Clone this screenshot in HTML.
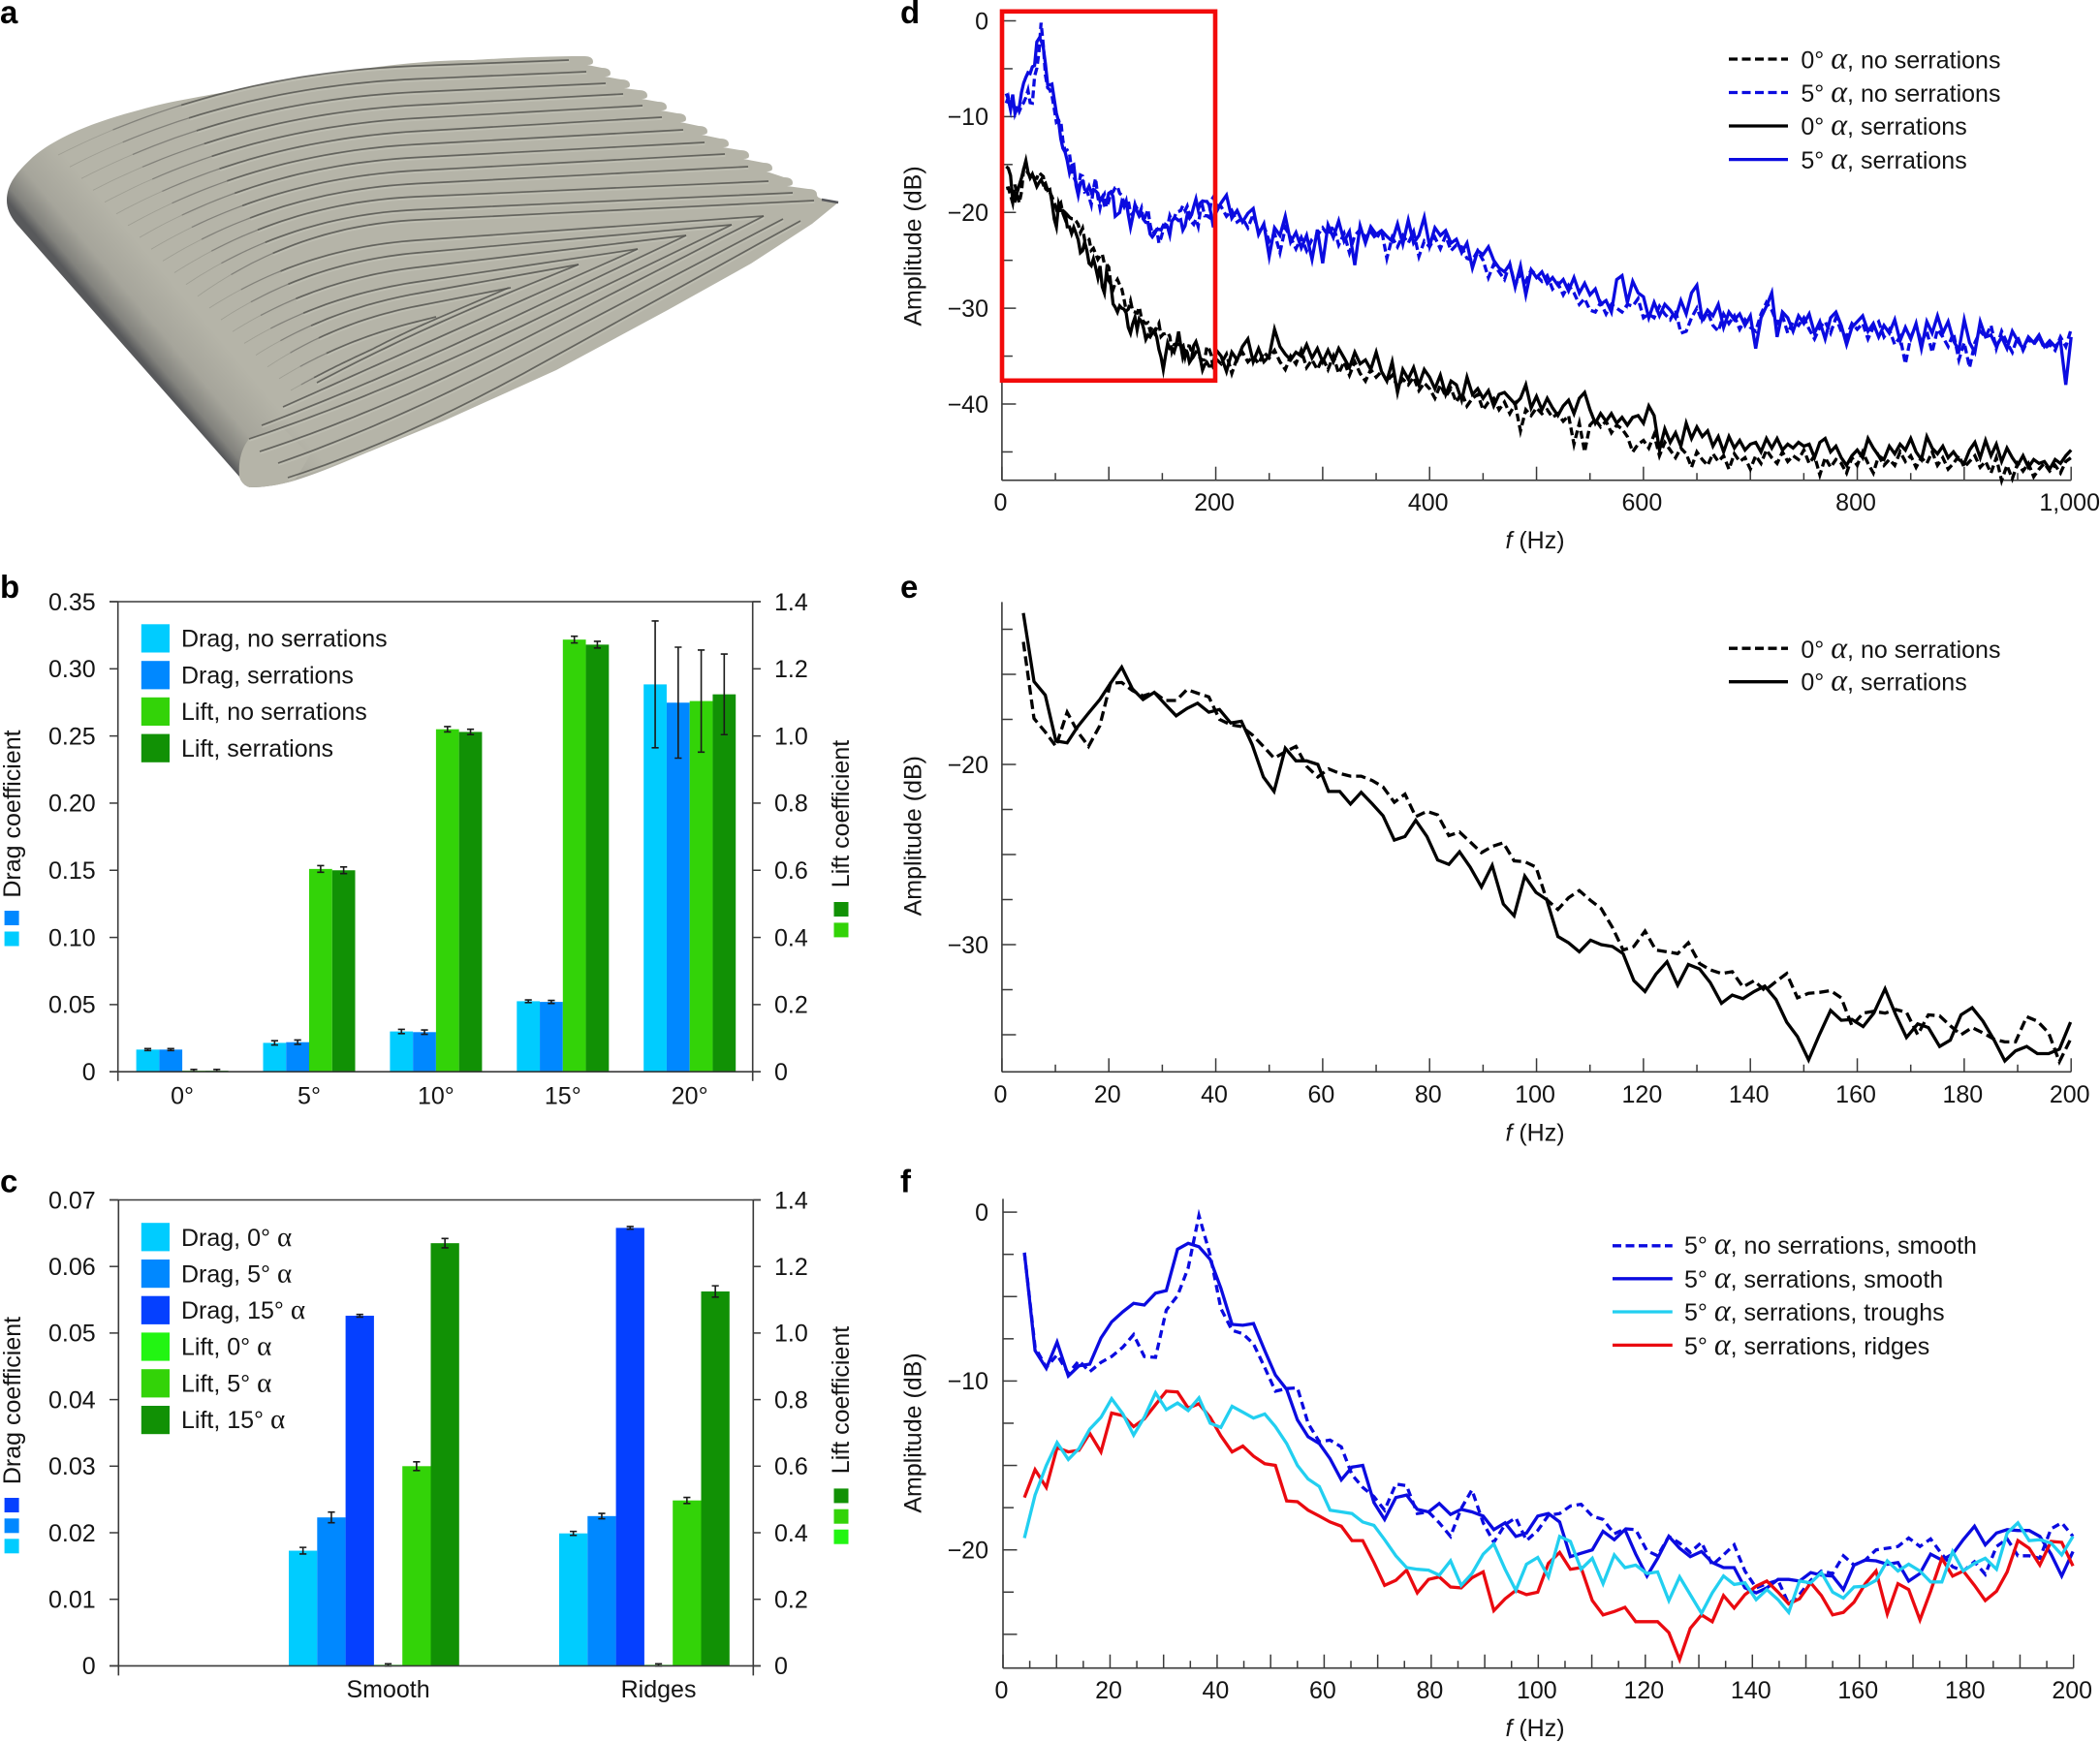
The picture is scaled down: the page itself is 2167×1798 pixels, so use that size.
<!DOCTYPE html>
<html lang="en">
<head>
<meta charset="utf-8">
<title>Airfoil serrations: wing geometry, aerodynamic coefficients and amplitude spectra</title>
<style>
html,body{margin:0;padding:0;background:#fff}
svg{display:block}
text{font-family:"Liberation Sans",sans-serif;font-size:25px;fill:#141414}
.pl{font-weight:700;font-size:33px;fill:#000}
.al{font-family:"Liberation Serif",serif;font-style:italic;font-size:32px}
.au{font-family:"Liberation Serif",serif;font-size:29px}
.it{font-style:italic}
</style>
</head>
<body>
<svg id="fig" xmlns="http://www.w3.org/2000/svg" width="2167" height="1798" viewBox="0 0 2167 1798">
<defs>
<linearGradient id="leGrad" gradientUnits="userSpaceOnUse" x1="127" y1="349" x2="185" y2="300">
<stop offset="0" stop-color="#58595b"/><stop offset="0.14" stop-color="#82827d"/><stop offset="0.45" stop-color="#a6a59b"/><stop offset="1" stop-color="#b5b4a8"/>
</linearGradient>
</defs>
<rect width="2167" height="1798" fill="#fff"/>

<g id="panelA">
<text class="pl" x="0" y="24">a</text>
<path fill="url(#leGrad)" d="M7,207 C7,190 17,178 34,162 C60,140 100,125 143.5,113.6 C180,103 210,100 241,93 C290,82 330,78 367,72 C410,66 450,62 488,62 C520,60 560,58 603,58 Q612,58 612,64 Q612,67 606,67 L621,70 Q630,70 630,76 Q630,79 624,79 L641,82 Q650,82 650,88 Q650,91 644,91 L659,93 Q668,93 668,99 Q668,102 662,102 L679,105 Q688,105 688,111 Q688,114 682,114 L699,117 Q708,117 708,123 Q708,126 702,126 L721,130 Q730,130 730,136 Q730,139 724,139 L743,143 Q752,143 752,149 Q752,152 746,152 L764,155 Q773,155 773,161 Q773,164 767,164 L788,168 Q797,168 797,174 Q797,177 791,177 L809,183 Q818,183 818,189 Q818,192 812,192 L834,195 Q843,195 843,201 Q843,204 848,205 L865,209 L838,231 L775,272 L689,320 L574,382 L459,434 L367,472 Q330,488 304,496 Q280,503 258,503 Q250,501 247,492 L17,231 Q7,219 7,207 Z"/>
<path fill="#b5b4a8" d="M257,453 Q245,468 247,492 Q250,501 258,503 Q280,503 304,496 L320,470 L290,440 Z"/>
<g id="wingRidges"></g>
<path d="M848,206 L865,209" stroke="#55565a" stroke-width="2.5" fill="none"/>
</g>

<g id="panelB">
<text class="pl" x="0" y="617">b</text>
<text transform="translate(21,840) rotate(-90)" text-anchor="middle">Drag coefficient</text>
<text transform="translate(876,840) rotate(-90)" text-anchor="middle">Lift coefficient</text>
<g>
<rect x="4.6" y="940" width="15" height="15" fill="#0088ff"/>
<rect x="4.6" y="961.5" width="15" height="15" fill="#00ccff"/>
<rect x="860.5" y="931" width="15" height="15" fill="#119105"/>
<rect x="860.5" y="952.4" width="15" height="15" fill="#33d308"/>
</g>
<g id="plotB"></g>
<g>
<rect x="145.8" y="644.3" width="29.2" height="29.2" fill="#00ccff"/>
<text x="187" y="667.5">Drag, no serrations</text>
<rect x="145.8" y="682.2" width="29.2" height="29.2" fill="#0088ff"/>
<text x="187" y="705.3">Drag, serrations</text>
<rect x="145.8" y="719.8" width="29.2" height="29.2" fill="#33d308"/>
<text x="187" y="743">Lift, no serrations</text>
<rect x="145.8" y="757.6" width="29.2" height="29.2" fill="#119105"/>
<text x="187" y="781">Lift, serrations</text>
</g>
</g>

<g id="panelC">
<text class="pl" x="0" y="1230.5">c</text>
<text transform="translate(21,1445.5) rotate(-90)" text-anchor="middle">Drag coefficient</text>
<text transform="translate(876,1445) rotate(-90)" text-anchor="middle">Lift coefficient</text>
<g>
<rect x="4.6" y="1546" width="15" height="15" fill="#0540ff"/>
<rect x="4.6" y="1567.3" width="15" height="15" fill="#0088ff"/>
<rect x="4.6" y="1588.3" width="15" height="15" fill="#00ccff"/>
<rect x="860.5" y="1536.4" width="15" height="15" fill="#119105"/>
<rect x="860.5" y="1557.7" width="15" height="15" fill="#33d308"/>
<rect x="860.5" y="1578.7" width="15" height="15" fill="#22f512"/>
</g>
<g id="plotC"></g>
<g>
<rect x="145.8" y="1262.2" width="29.2" height="29.2" fill="#00ccff"/>
<text x="187" y="1285.8">Drag, 0° <tspan class="au">α</tspan></text>
<rect x="145.8" y="1300" width="29.2" height="29.2" fill="#0088ff"/>
<text x="187" y="1323.5">Drag, 5° <tspan class="au">α</tspan></text>
<rect x="145.8" y="1337.7" width="29.2" height="29.2" fill="#0540ff"/>
<text x="187" y="1361">Drag, 15° <tspan class="au">α</tspan></text>
<rect x="145.8" y="1375.4" width="29.2" height="29.2" fill="#22f512"/>
<text x="187" y="1398.7">Lift, 0° <tspan class="au">α</tspan></text>
<rect x="145.8" y="1413.2" width="29.2" height="29.2" fill="#33d308"/>
<text x="187" y="1436.3">Lift, 5° <tspan class="au">α</tspan></text>
<rect x="145.8" y="1451" width="29.2" height="29.2" fill="#119105"/>
<text x="187" y="1474">Lift, 15° <tspan class="au">α</tspan></text>
</g>
</g>

<g id="panelD">
<text class="pl" x="929" y="24">d</text>
<text transform="translate(950.6,254) rotate(-90)" text-anchor="middle">Amplitude (dB)</text>
<text x="1584" y="566" text-anchor="middle"><tspan class="it">f</tspan> (Hz)</text>
<g id="plotD"></g>
<rect x="1034" y="11.8" width="220" height="381" fill="none" stroke="#f20b0b" stroke-width="4.6"/>
<g>
<line x1="1784" x2="1845" y1="61" y2="61" stroke="#000" stroke-width="3.3" stroke-dasharray="9 4.5"/>
<text x="1858.4" y="70.3">0° <tspan class="al">α</tspan>, no serrations</text>
<line x1="1784" x2="1845" y1="95.5" y2="95.5" stroke="#0b0be0" stroke-width="3.3" stroke-dasharray="9 4.5"/>
<text x="1858.4" y="105">5° <tspan class="al">α</tspan>, no serrations</text>
<line x1="1784" x2="1845" y1="130" y2="130" stroke="#000" stroke-width="3.3"/>
<text x="1858.4" y="139">0° <tspan class="al">α</tspan>, serrations</text>
<line x1="1784" x2="1845" y1="164.6" y2="164.6" stroke="#0b0be0" stroke-width="3.3"/>
<text x="1858.4" y="174">5° <tspan class="al">α</tspan>, serrations</text>
</g>
</g>

<g id="panelE">
<text class="pl" x="929" y="616.8">e</text>
<text transform="translate(950.6,862.7) rotate(-90)" text-anchor="middle">Amplitude (dB)</text>
<text x="1584" y="1177.4" text-anchor="middle"><tspan class="it">f</tspan> (Hz)</text>
<g id="plotE"></g>
<g>
<line x1="1784" x2="1845" y1="669.2" y2="669.2" stroke="#000" stroke-width="3.3" stroke-dasharray="9 4.5"/>
<text x="1858.4" y="679">0° <tspan class="al">α</tspan>, no serrations</text>
<line x1="1784" x2="1845" y1="703.7" y2="703.7" stroke="#000" stroke-width="3.3"/>
<text x="1858.4" y="712.5">0° <tspan class="al">α</tspan>, serrations</text>
</g>
</g>

<g id="panelF">
<text class="pl" x="929" y="1230.5">f</text>
<text transform="translate(950.6,1479) rotate(-90)" text-anchor="middle">Amplitude (dB)</text>
<text x="1584" y="1792" text-anchor="middle"><tspan class="it">f</tspan> (Hz)</text>
<g id="plotF"></g>
<g>
<line x1="1664" x2="1725.8" y1="1285.8" y2="1285.8" stroke="#0b0be0" stroke-width="3.3" stroke-dasharray="9 4.5"/>
<text x="1738" y="1294">5° <tspan class="al">α</tspan>, no serrations, smooth</text>
<line x1="1664" x2="1725.8" y1="1319.8" y2="1319.8" stroke="#0b0be0" stroke-width="3.3"/>
<text x="1738" y="1329">5° <tspan class="al">α</tspan>, serrations, smooth</text>
<line x1="1664" x2="1725.8" y1="1354" y2="1354" stroke="#22cff0" stroke-width="3.3"/>
<text x="1738" y="1363">5° <tspan class="al">α</tspan>, serrations, troughs</text>
<line x1="1664" x2="1725.8" y1="1388.4" y2="1388.4" stroke="#ea0a10" stroke-width="3.3"/>
<text x="1738" y="1398">5° <tspan class="al">α</tspan>, serrations, ridges</text>
</g>
</g>
</svg>

<script>
/* ---------- panel b data ---------- */
const bCategories = ['0°','5°','10°','15°','20°'];
const bDragNoSerr = [0.0165,0.0215,0.0300,0.0525,0.2884];
const bDragNoSerrErr = [0.0007,0.0016,0.0016,0.0010,0.0472];
const bDragSerr = [0.0165,0.0220,0.0295,0.0520,0.2748];
const bDragSerrErr = [0.0007,0.0016,0.0016,0.0011,0.0413];
const bLiftNoSerr = [0.003,0.604,1.020,1.287,1.104];
const bLiftNoSerrErr = [0.004,0.010,0.008,0.010,0.152];
const bLiftSerr = [0.003,0.600,1.012,1.272,1.124];
const bLiftSerrErr = [0.004,0.010,0.008,0.010,0.120];
const bDragTicks = ['0','0.05','0.10','0.15','0.20','0.25','0.30','0.35'];
const bLiftTicks = ['0','0.2','0.4','0.6','0.8','1.0','1.2','1.4'];

/* ---------- panel c data ---------- */
const cCategories = ['Smooth','Ridges'];
const cDrag0 = [0.0173,0.0199];
const cDrag0Err = [0.0005,0.0003];
const cDrag5 = [0.0223,0.0225];
const cDrag5Err = [0.0008,0.0004];
const cDrag15 = [0.0526,0.0658];
const cDrag15Err = [0.0002,0.0002];
const cLift0 = [0.003,0.003];
const cLift0Err = [0.003,0.003];
const cLift5 = [0.600,0.497];
const cLift5Err = [0.013,0.009];
const cLift15 = [1.270,1.125];
const cLift15Err = [0.014,0.017];
const cDragTicks = ['0','0.01','0.02','0.03','0.04','0.05','0.06','0.07'];
const cLiftTicks = ['0','0.2','0.4','0.6','0.8','1.0','1.2','1.4'];

/* ---------- spectra data ---------- */
const lowFreq = [4,6,8.1,10.1,12.2,14.2,16.2,18.3,20.3,22.4,24.4,26.4,28.5,30.5,32.6,34.6,36.6,38.7,40.7,42.8,44.8,46.8,48.9,50.9,53,55,57,59.1,61.1,63.2,65.2,67.2,69.3,71.3,73.4,75.4,77.4,79.5,81.5,83.6,85.6,87.6,89.7,91.7,93.8,95.8,97.8,99.9,101.9,104,106,108,110.1,112.1,114.2,116.2,118.2,120.3,122.3,124.4,126.4,128.4,130.5,132.5,134.6,136.6,138.6,140.7,142.7,144.8,146.8,148.8,150.9,152.9,155,157,159,161.1,163.1,165.2,167.2,169.2,171.3,173.3,175.4,177.4,179.4,181.5,183.5,185.6,187.6,189.6,191.7,193.7,195.8,197.8,199.9];

const zeroSerrations = [-11.6,-15.4,-16.15,-18.7,-18.8,-17.9,-17.15,-16.4,-15.5,-14.6,-15.8,-16.4,-16,-16.65,-17.3,-16.9,-16.6,-17.1,-16.95,-17.7,-17.6,-18.9,-20.7,-21.5,-19.1,-19.8,-19.8,-20,-21.5,-21.5,-22.2,-21.55,-22.2,-22.85,-24.2,-24,-23.1,-24,-25.3,-25.55,-24.85,-25.7,-26.8,-25.6,-27.75,-28.4,-26.2,-27.1,-27.5,-29.55,-29.9,-30.4,-29.75,-30,-30.1,-30.5,-32,-32.6,-31.65,-30.95,-32.25,-31.1,-31.35,-32.1,-33.25,-32.8,-33,-32.6,-32.3,-33.05,-34.3,-35.1,-36.4,-35,-33.65,-34.2,-34.15,-34.55,-33.8,-32.45,-33.9,-35.15,-34.4,-34.6,-35.65,-35.3,-33.9,-33.5,-34.25,-35.3,-36.45,-35.9,-35.65,-36.05,-36.05,-35.8,-34.3];

const zeroNoSerrations = [-13.2,-17.45,-18.2,-19,-17.1,-18.2,-19,-17.85,-15.5,-15.45,-15.9,-16.2,-16,-16.45,-16.45,-15.85,-16.05,-16.25,-17.5,-17.8,-17.9,-18.35,-19,-19.65,-19.3,-19,-20.1,-20.7,-20.25,-20.5,-20.65,-20.65,-20.9,-21.25,-22.1,-21.65,-22.9,-22.6,-22.8,-23.95,-23.75,-24.3,-24.9,-24.55,-24.35,-25.35,-25.4,-25.7,-27.5,-28.05,-27.4,-27,-27.55,-28,-29.05,-30.3,-30.1,-29.25,-30.3,-30.4,-30.5,-29.9,-31.05,-31.4,-31.6,-31.5,-32.35,-32,-32.55,-32.05,-31.6,-32.95,-32.7,-32.65,-32.55,-32.95,-34.5,-33.8,-33.7,-33.8,-33.6,-33.75,-35,-33.9,-33.95,-34.5,-35,-34.6,-34.9,-35.25,-35.4,-35.4,-34,-34.25,-34.9,-36.5,-35.25];

const fiveSerrSmooth = [-2.4,-8.2,-9.25,-7.7,-9.7,-9.1,-9,-7.45,-6.5,-5.9,-5.4,-5.5,-4.8,-4.65,-2.2,-1.85,-2.05,-2.8,-4.5,-6.65,-6.7,-6.6,-8.2,-9.65,-10.5,-12.3,-13.3,-13.7,-14.6,-15.85,-15.1,-15,-17.2,-18.2,-16.9,-16.75,-17.6,-17.75,-17.25,-17.9,-17.6,-17.75,-18,-18.8,-18.4,-19.2,-19,-18,-17.85,-18.35,-20.4,-20.2,-20,-18.9,-19.4,-18.8,-20.25,-21.55,-20.5,-19.2,-19.9,-20.4,-20.1,-20.75,-21.05,-21.05,-22.25,-22.55,-22.25,-21.75,-21.75,-21.85,-21.35,-21.5,-21.55,-22.35,-20.9,-20.6,-20.65,-20.85,-20.75,-21.85,-21.4,-20.25,-20.6,-20.25,-19.4,-18.6,-19.7,-19,-18.8,-18.85,-18.85,-19.2,-20.25,-21.55,-20.1];

const fiveNoSerrSmooth = [-2.4,-8,-9.2,-8.45,-9.55,-8.8,-9.45,-8.9,-8.55,-8,-7.25,-8.55,-8.6,-5.8,-4.95,-3.3,-0.2,-2.55,-5.7,-7,-7.2,-7.8,-9.2,-10.6,-10.45,-10.4,-12.5,-13.6,-13.5,-13.9,-15.55,-16.3,-16.85,-17.65,-16.1,-16.2,-17.85,-17.75,-18.4,-19.2,-17.55,-16.45,-18.4,-19.55,-18.5,-18.1,-19.45,-18.85,-17.95,-17.85,-17.4,-17.3,-18,-18.2,-19.05,-18.75,-18.8,-20.05,-20.35,-19.2,-19.6,-20.15,-19.55,-20.9,-20.3,-19.7,-21.25,-22.25,-22,-21.8,-23.2,-22.65,-21.8,-21.25,-21.4,-20.35,-20.9,-20.6,-20,-19.9,-19.8,-19.3,-19.8,-19.35,-20.25,-21,-21.25,-20.7,-21.45,-19.8,-19.35,-20.35,-20.35,-20.5,-18.75,-18.4,-19.2];

const fiveRidges = [-16.9,-15.25,-16.3,-13.95,-14.2,-14.1,-13.1,-14.2,-11.9,-12.05,-12.7,-12.25,-11.4,-10.6,-10.65,-11.6,-11.35,-12.15,-13.25,-14.2,-13.85,-14.45,-14.9,-15,-17.1,-17.15,-17.65,-18,-18.35,-18.6,-19.45,-19.45,-20.75,-22.1,-21.8,-21.2,-22.55,-21.75,-21.6,-22.2,-22.25,-21.65,-21.3,-23.6,-22.9,-22.4,-22.65,-22.5,-20.8,-20.15,-21.15,-21.05,-23,-23.85,-23.65,-23.4,-24.25,-24.25,-24.25,-24.9,-26.5,-24.65,-23.85,-24.25,-22.7,-23.45,-22.65,-22.15,-21.85,-22.5,-23.2,-22.9,-21.95,-22.7,-23.85,-23.7,-23.1,-22,-21.25,-23.8,-22,-22.35,-24.15,-22.45,-20.5,-21.55,-21.25,-22.1,-23,-22.45,-21.3,-19.45,-19.9,-20.9,-19.5,-19.55,-20.95];

const fiveTroughs = [-19.3,-16.75,-15,-13.65,-14.65,-14,-12.85,-12.15,-11.05,-11.95,-13.2,-12.15,-10.7,-11.7,-11.3,-11.75,-11,-12.5,-12.75,-11.5,-11.85,-12.2,-11.95,-12.7,-13.7,-15,-15.8,-16.25,-17.65,-17.75,-17.85,-18.35,-18.55,-19.4,-20.35,-21.05,-21.15,-21.2,-21.5,-20.65,-22.1,-21.4,-20.25,-19.65,-21.15,-22.4,-20.85,-20.45,-21.6,-19.2,-19.5,-21.15,-20.5,-22,-20.3,-21.05,-20.9,-21.4,-21.3,-23,-21.6,-22.65,-23.75,-22.55,-21.55,-22.05,-21.95,-22.95,-22.35,-22.95,-23.7,-21.85,-21.95,-21.35,-22.5,-22.85,-22.2,-22.15,-21.8,-20.65,-21.25,-20.85,-21.25,-21.9,-21.9,-20.1,-21.25,-20.8,-20.5,-21.15,-19,-18.4,-19.45,-19.4,-19.6,-20.3,-19.2];

const highFreq = [205,210,215,220,225,230,235,240,245,250,255,260,265,270,275,280,285,290,295,300,305,310,315,320,325,330,335,340,345,350,355,360,365,370,375,380,385,390,395,400,405,410,415,420,425,430,435,440,445,450,455,460,465,470,475,480,485,490,495,500,505,510,515,520,525,530,535,540,545,550,555,560,565,570,575,580,585,590,595,600,605,610,615,620,625,630,635,640,645,650,655,660,665,670,675,680,685,690,695,700,705,710,715,720,725,730,735,740,745,750,755,760,765,770,775,780,785,790,795,800,805,810,815,820,825,830,835,840,845,850,855,860,865,870,875,880,885,890,895,900,905,910,915,920,925,930,935,940,945,950,955,960,965,970,975,980,985,990,995,1000];

const highFiveSerr = [-19,-18.2,-20.6,-19.8,-21,-20.1,-19.6,-22.3,-21.2,-24.6,-21.6,-22.4,-20.4,-23.1,-22.1,-23.7,-22.4,-24.9,-21.8,-25.3,
-21.3,-22.6,-20.9,-23,-22,-25.5,-21.4,-23.2,-21.5,-22.3,-21.9,-22.5,-23,-21.2,-23.3,-20.8,-23.2,-22.4,-20.5,-23.5,
-21.6,-22.4,-21.9,-23.2,-22.8,-24.2,-23.2,-25.8,-24,-24.4,-23.6,-25,-25.8,-26.2,-25.4,-27.8,-25.6,-28.6,-26,-26.8,
-26.2,-27.4,-26.8,-27.6,-27,-28.2,-26.8,-28.4,-27.4,-28.6,-28,-29.6,-29.2,-30.4,-27,-26.6,-29.4,-27.2,-28.4,-28.8,
-31,-29.4,-30.8,-29.6,-30.2,-31,-29.2,-30.6,-28.4,-27.6,-31.2,-30.2,-30.8,-29.6,-32,-30.4,-31.2,-30.6,-31.8,-30.8,
-34.2,-31,-29.8,-28.4,-33,-30.4,-31,-32.4,-30.8,-31.6,-30.6,-32.6,-31.4,-33.2,-31,-30.4,-31.8,-33.8,-32,-31.4,
-30.8,-32.4,-31.6,-33,-31.8,-32.6,-31.2,-33.4,-32,-33.2,-31.6,-34.2,-31.4,-32.6,-30.8,-32.6,-31.4,-33.4,-34.4,-31.2,
-33.6,-34.6,-31.4,-33,-32.8,-34,-33,-34.2,-32.4,-33.4,-34.2,-33,-33.6,-32.8,-34,-33.4,-34,-33.4,-38,-33];

const highFiveNoSerr = [-19.4,-20.4,-19.8,-21,-20.6,-21.6,-20.2,-22,-21.4,-23,-22.2,-24.2,-21.6,-22.6,-23.8,-22.6,-24,-22.8,-22.4,-21.6,
-22.4,-21.4,-23.4,-22.2,-24.2,-22.4,-21.8,-22.6,-22,-22.8,-21.8,-24.8,-22.6,-23.6,-22.4,-23.2,-22,-24.6,-23,-23.6,
-22.6,-23.8,-22.4,-24,-23.4,-23.6,-24.8,-25,-24,-25,-26.8,-25.4,-26.2,-27,-25.4,-27.6,-26.4,-27.2,-26,-26.6,
-27.2,-26.6,-28,-27.4,-28.6,-27.6,-28.4,-29.6,-29,-30.2,-30.4,-29.4,-30.6,-29.6,-30,-30.4,-29.6,-29.8,-29,-31,
-30.6,-31,-29.8,-30.6,-31.2,-30.2,-32.6,-32.4,-31,-30,-31.4,-30.4,-31.8,-32.4,-30.6,-31.6,-30.8,-32.2,-31.2,-32,
-32.4,-30.6,-29.4,-30.2,-31.6,-30.8,-32.6,-31.4,-31.8,-31,-32.2,-33.2,-32,-31.4,-32.6,-31,-32.4,-33,-31.6,-32.2,
-31.6,-33.2,-32,-31.4,-33,-32.2,-33.8,-33,-35.8,-33,-31.8,-33.6,-32.4,-34.6,-32.2,-33,-34,-32.6,-35.4,-33.6,
-36.2,-33.6,-32.4,-33,-31.8,-34.2,-32.4,-33.6,-34.6,-33,-34.4,-33.2,-33.8,-33,-34.2,-33.8,-34.4,-33,-34,-32.2];

const highZeroSerr = [-35,-36.6,-34.6,-35.4,-34,-33.2,-35.6,-34.2,-35.6,-35,-32.2,-34,-34.8,-35.4,-34.6,-35,-33.8,-35.2,-34.2,-35.6,
-34.4,-35.6,-34.2,-35.2,-36.2,-34.6,-35.8,-35.4,-36.4,-34.6,-36.6,-37.6,-35.6,-38.8,-36.4,-37.4,-36.2,-38,-36.4,-37.2,
-38.4,-37,-39,-37.6,-38,-39.6,-37.2,-39,-38.4,-39.4,-38.6,-40.2,-39,-38.8,-39.4,-40,-39.4,-38,-40.4,-39.2,
-40.6,-39.4,-40.4,-41.2,-40.2,-39.6,-41,-39.4,-38.8,-40.6,-42,-41,-41.8,-41,-42,-41.4,-42.2,-41.4,-41.2,-42,
-40.2,-41.2,-44.8,-42.6,-44,-43,-44.4,-42,-43.6,-42.4,-43.4,-42.8,-44.4,-43.4,-45,-43.4,-44.6,-43.8,-44.8,-44.2,
-44,-45,-43.6,-44.6,-43.6,-44.8,-44.2,-44.6,-44,-44.4,-44.2,-45.6,-44,-43.6,-45,-44.4,-45.6,-46.4,-45.4,-44.8,
-45.6,-43.6,-44.6,-45.4,-45.8,-44.4,-45.2,-44.2,-44.8,-43.6,-45,-45.8,-43.4,-44.6,-45.2,-44.4,-45.6,-45,-45.8,-46.2,
-44.8,-44,-45.6,-43.8,-45.4,-44.2,-46,-44.6,-45.6,-46.4,-45.4,-46.6,-45.8,-46.2,-46,-46.8,-45.8,-46.2,-45.4,-44.8];

const highZeroNoSerr = [-35.8,-34.8,-36.8,-35.2,-34.6,-35.6,-35,-35.8,-34.6,-35.2,-34.4,-35.6,-36.4,-35,-35.8,-34.4,-36.2,-35.4,-36.4,-35.2,
-36.4,-35,-36.8,-35.6,-37,-35.6,-36.8,-37.6,-36.4,-37.2,-36.6,-37.6,-37,-38.2,-37.4,-38,-37.2,-38.6,-37.8,-38.4,
-39.4,-38,-39.2,-38.4,-39.8,-38.8,-40.2,-39.4,-39,-40.6,-39.8,-39.4,-40.6,-39.8,-41,-40,-42.8,-40.6,-41.2,-40.4,
-41,-40.6,-41.4,-41,-41.8,-41.2,-44.2,-42,-45,-42.2,-41.6,-42.4,-41.8,-43,-42.2,-42.6,-43.4,-45,-44.2,-43.8,
-44.6,-43.2,-45.4,-44,-44.8,-45.6,-44.6,-45.2,-46.6,-45,-45.8,-46.4,-45.2,-46,-45.4,-46.8,-45.2,-46,-45.6,-46.8,
-45.4,-46.2,-44.8,-45.6,-46.2,-45,-46,-45.4,-45.8,-44.8,-46.2,-45.4,-47.4,-45.6,-46.6,-45.8,-46.2,-47.2,-45.6,-46.4,
-45,-46.2,-47.2,-45.4,-46.4,-45.8,-46.4,-45,-46,-45.4,-46.6,-45.6,-46.2,-45,-46.4,-45.6,-46.8,-46.2,-45.4,-46.6,
-46,-45.4,-46.6,-46,-47.2,-45.6,-48,-46.4,-47.8,-46.2,-47,-46.2,-47.6,-46.8,-46.2,-47,-46.4,-47.2,-46,-45.6];

/* first bin of the wide-band spectra in panel d */
const dFirstZeroSerr = -15.2;
const dFirstZeroNoSerr = -17.5;
const dFirstFiveSerr = -7.6;
const dFirstFiveNoSerr = -8.6;

/* tick values */
const dXLabels = [0,200,400,600,800,1000];
const dXLabelText = ['0','200','400','600','800','1,000'];
const dXMajor = [0,100,200,300,400,500,600,700,800,900,1000];
const dXMinor = [50,150,250,350,450,550,650,750,850,950];
const dYLabels = [0,-10,-20,-30,-40];
const dYLabelText = ['0','−10','−20','−30','−40'];
const dYMajor = [0,-10,-20,-30,-40];
const dYMinor = [-5,-15,-25,-35,-45];
const eXLabels = [0,20,40,60,80,100,120,140,160,180,200];
const eXLabelText = ['0','20','40','60','80','100','120','140','160','180','200'];
const eXMajor = [0,20,40,60,80,100,120,140,160,180,200];
const eXMinor = [10,30,50,70,90,110,130,150,170,190];
const eYLabels = [-20,-30];
const eYLabelText = ['−20','−30'];
const eYMajor = [-15,-20,-25,-30,-35];
const eYMinor = [-12.5,-17.5,-22.5,-27.5,-32.5];
const fXLabels = [0,20,40,60,80,100,120,140,160,180,200];
const fXLabelText = ['0','20','40','60','80','100','120','140','160','180','200'];
const fXMajor = [0,10,20,30,40,50,60,70,80,90,100,110,120,130,140,150,160,170,180,190,200];
const fXMinor = [5,15,25,35,45,55,65,75,85,95,105,115,125,135,145,155,165,175,185,195];
const fYLabels = [0,-10,-20];
const fYLabelText = ['0','−10','−20'];
const fYMajor = [0,-5,-10,-15,-20,-25];
const fYMinor = [-2.5,-7.5,-12.5,-17.5,-22.5];

/* ---------- helpers ---------- */
const NS = 'http://www.w3.org/2000/svg';
const AXIS = '#3a3a3a';
function el(tag, attrs, parent) {
  const n = document.createElementNS(NS, tag);
  for (const k in attrs) n.setAttribute(k, attrs[k]);
  parent.appendChild(n);
  return n;
}
const lin = (d0, d1, r0, r1) => v => r0 + (v - d0) / (d1 - d0) * (r1 - r0);

function hLine(parent, x1, x2, y) {
  const l = el('line', {x1: x1, x2: x2, y1: y, y2: y, stroke: AXIS, 'stroke-width': 1.6}, parent);
  
  
  return l;
}
function vLine(parent, x, y1, y2) {
  const l = el('line', {x1: x, x2: x, y1: y1, y2: y2, stroke: AXIS, 'stroke-width': 1.6}, parent);
  
  
  return l;
}
function tickH(parent, x1, x2, y) {
  const t = el('line', {x1: x1, x2: x2, y1: y, y2: y, stroke: AXIS, 'stroke-width': 1.5}, parent);
  
  
}
function tickV(parent, x, y1, y2) {
  const t = el('line', {x1: x, x2: x, y1: y1, y2: y2, stroke: AXIS, 'stroke-width': 1.5}, parent);
  
  
}
function label(parent, x, y, str, anchor) {
  const t = el('text', {x: x, y: y, 'text-anchor': anchor}, parent);
  t.textContent = str;
  
  
}
function bar(parent, x, w, yTop, yBase, color) {
  const r = el('rect', {x: x, y: Math.min(yTop, yBase), width: w, height: Math.abs(yBase - yTop), fill: color}, parent);
  
  
}
function errorBar(parent, cx, yHi, yLo) {
  const d = 'M' + cx + ',' + yHi + 'V' + yLo + 'M' + (cx - 3.6) + ',' + yHi + 'H' + (cx + 3.6) + 'M' + (cx - 3.6) + ',' + yLo + 'H' + (cx + 3.6);
  const p = el('path', {d: d, stroke: '#1a1a1a', 'stroke-width': 1.6, fill: 'none'}, parent);
  
  
}
function series(parent, xs, ys, sx, sy, color, dash) {
  const n = Math.min(xs.length, ys.length);
  const pts = [];
  for (let i = 0; i < n; i++) pts.push(sx(xs[i]).toFixed(1) + ',' + sy(ys[i]).toFixed(1));
  const attrs = {points: pts.join(' '), fill: 'none', stroke: color, 'stroke-width': 3.3, 'stroke-linejoin': 'miter', 'stroke-miterlimit': 6};
  if (dash) attrs['stroke-dasharray'] = dash;
  const l = el('polyline', attrs, parent);
  
  
}

/* ---------- bar panels ---------- */
function frame(parent, xL, xR, yT, y0, yB, leftTicks, rightTicks, leftMax, rightMax) {
  hLine(parent, 113, 785, yT);
  vLine(parent, xL, yT, yB);
  vLine(parent, xR, yT, yB);
  const yDrag = lin(0, leftMax, y0, yT);
  const yLift = lin(0, rightMax, y0, yT);
  leftTicks.forEach(function (t) {
    const y = yDrag(+t);
    tickH(parent, 113, xL, y);
    label(parent, 98.7, y + 8.8, t, 'end');
  });
  rightTicks.forEach(function (t) {
    const y = yLift(+t);
    tickH(parent, xR, 785, y);
    label(parent, 799, y + 8.8, t, 'start');
  });
  return {yDrag: yDrag, yLift: yLift};
}

(function panelB() {
  const g = document.getElementById('plotB');
  const xL = 121.7, xR = 776.7, yT = 621, y0 = 1106.2, yB = 1115.8;
  const s = frame(g, xL, xR, yT, y0, yB, bDragTicks, bLiftTicks, 0.35, 1.4);
  const w = 23.75, first = 140.6, step = 130.9;
  const defs = [
    [bDragNoSerr, bDragNoSerrErr, '#00ccff', s.yDrag],
    [bDragSerr, bDragSerrErr, '#0088ff', s.yDrag],
    [bLiftNoSerr, bLiftNoSerrErr, '#33d308', s.yLift],
    [bLiftSerr, bLiftSerrErr, '#119105', s.yLift]
  ];
  bCategories.forEach(function (c, i) {
    const gx = first + i * step;
    defs.forEach(function (d, j) {
      bar(g, gx + j * w, w, d[3](d[0][i]), y0, d[2]);
    });
    defs.forEach(function (d, j) {
      errorBar(g, gx + j * w + w / 2, d[3](d[0][i] + d[1][i]), d[3](Math.max(0, d[0][i] - d[1][i])));
    });
    label(g, gx + 2 * w, 1139.5, c, 'middle');
  });
  hLine(g, 113, 785, y0);
})();

(function panelC() {
  const g = document.getElementById('plotC');
  const xL = 122.3, xR = 777.3, yT = 1238.5, y0 = 1719.4, yB = 1729.4;
  const s = frame(g, xL, xR, yT, y0, yB, cDragTicks, cLiftTicks, 0.07, 1.4);
  const w = 29.3, first = 298, step = 279;
  const defs = [
    [cDrag0, cDrag0Err, '#00ccff', s.yDrag],
    [cDrag5, cDrag5Err, '#0088ff', s.yDrag],
    [cDrag15, cDrag15Err, '#0540ff', s.yDrag],
    [cLift0, cLift0Err, '#22f512', s.yLift],
    [cLift5, cLift5Err, '#33d308', s.yLift],
    [cLift15, cLift15Err, '#119105', s.yLift]
  ];
  cCategories.forEach(function (c, i) {
    const gx = first + i * step;
    defs.forEach(function (d, j) {
      bar(g, gx + j * w, w, d[3](d[0][i]), y0, d[2]);
    });
    defs.forEach(function (d, j) {
      errorBar(g, gx + j * w + w / 2, d[3](d[0][i] + d[1][i]), d[3](Math.max(0, d[0][i] - d[1][i])));
    });
    label(g, gx + 3.5 * w, 1752, c, 'middle');
  });
  hLine(g, 113, 785, y0);
})();

/* ---------- spectra panels ---------- */
function spectrumAxes(g, sx, sy, o) {
  vLine(g, o.x0, o.top, o.bottom);
  hLine(g, o.x0, o.x1, o.bottom);
  o.xMajor.forEach(function (v) { tickV(g, sx(v), o.bottom - 14, o.bottom); });
  o.xMinor.forEach(function (v) { tickV(g, sx(v), o.bottom - 7.5, o.bottom); });
  o.yMajor.forEach(function (v) { tickH(g, o.x0, o.x0 + 14.5, sy(v)); });
  o.yMinor.forEach(function (v) { tickH(g, o.x0, o.x0 + 11, sy(v)); });
  o.xLabels.forEach(function (v, i) { label(g, sx(v) - 1.5, o.labelY, o.xText[i], 'middle'); });
  o.yLabels.forEach(function (v, i) { label(g, 1020, sy(v) + 8.8, o.yText[i], 'end'); });
}

(function panelD() {
  const g = document.getElementById('plotD');
  const sx = lin(0, 1000, 1033.9, 2137.2);
  const sy = lin(0, -40, 21.5, 417);
  spectrumAxes(g, sx, sy, {x0: 1033.9, x1: 2137.2, top: 12, bottom: 495.7, labelY: 527,
    xMajor: dXMajor, xMinor: dXMinor, yMajor: dYMajor, yMinor: dYMinor,
    xLabels: dXLabels, xText: dXLabelText, yLabels: dYLabels, yText: dYLabelText});
  const fx = lowFreq.concat(highFreq);
  const d0 = [dFirstZeroNoSerr].concat(zeroNoSerrations.slice(1), highZeroNoSerr);
  const d5 = [dFirstFiveNoSerr].concat(fiveNoSerrSmooth.slice(1), highFiveNoSerr);
  const s0 = [dFirstZeroSerr].concat(zeroSerrations.slice(1), highZeroSerr);
  const s5 = [dFirstFiveSerr].concat(fiveSerrSmooth.slice(1), highFiveSerr);
  series(g, fx, d0, sx, sy, '#000', '8 4');
  series(g, fx, d5, sx, sy, '#0b0be0', '8 4');
  series(g, fx, s0, sx, sy, '#000');
  series(g, fx, s5, sx, sy, '#0b0be0');
})();

(function panelE() {
  const g = document.getElementById('plotE');
  const sx = lin(0, 200, 1033.9, 2137.2);
  const sy = lin(-20, -30, 789, 975);
  spectrumAxes(g, sx, sy, {x0: 1033.9, x1: 2137.2, top: 621.4, bottom: 1106.3, labelY: 1138,
    xMajor: eXMajor, xMinor: eXMinor, yMajor: eYMajor, yMinor: eYMinor,
    xLabels: eXLabels, xText: eXLabelText, yLabels: eYLabels, yText: eYLabelText});
  series(g, lowFreq, zeroNoSerrations, sx, sy, '#000', '10 5');
  series(g, lowFreq, zeroSerrations, sx, sy, '#000');
})();

(function panelF() {
  const g = document.getElementById('plotF');
  const sx = lin(0, 200, 1035, 2139.7);
  const sy = lin(0, -20, 1251.1, 1599.7);
  spectrumAxes(g, sx, sy, {x0: 1035, x1: 2139.7, top: 1237.4, bottom: 1721.7, labelY: 1753,
    xMajor: fXMajor, xMinor: fXMinor, yMajor: fYMajor, yMinor: fYMinor,
    xLabels: fXLabels, xText: fXLabelText, yLabels: fYLabels, yText: fYLabelText});
  series(g, lowFreq, fiveNoSerrSmooth, sx, sy, '#0b0be0', '8 5');
  series(g, lowFreq, fiveSerrSmooth, sx, sy, '#0b0be0');
  series(g, lowFreq, fiveRidges, sx, sy, '#ea0a10');
  series(g, lowFreq, fiveTroughs, sx, sy, '#22cff0');
})();

/* ---------- wing ridges (illustration, panel a) ---------- */
(function wing() {
  const g = document.getElementById('wingRidges');
  function stroke(pts, color, w, op, tf) {
    const attrs = {points: pts.map(function (p) { return p[0].toFixed(1) + ',' + p[1].toFixed(1); }).join(' '), fill: 'none', stroke: color, 'stroke-width': w, 'stroke-opacity': op};
    if (tf) attrs.transform = 'translate(0.5,2)';
    const ln = el('polyline', attrs, g);
    
    
  }
  function draw(pts, fade, w) {
    const n = pts.length;
    const a = fade ? Math.round(n * 0.14) : 0;
    const b = fade ? Math.round(n * 0.3) : 0;
    if (fade) {
      stroke(pts.slice(0, a + 1), '#5a5a55', w * 0.5, 0.25);
      stroke(pts.slice(a, b + 1), '#5a5a55', w * 0.75, 0.55);
    }
    stroke(pts.slice(b), '#c8c7bc', w, 0.5, true);
    stroke(pts.slice(b), '#565651', w, 0.85);
  }
  function arc(L, M, R) {
    const slope = (R[1] - M[1]) / (R[0] - M[0]);
    const back = (M[0] - L[0]) * 0.55;
    const C = [M[0] - back, M[1] - slope * back];
    const pts = [];
    for (let k = 0; k <= 30; k++) {
      const t = k / 30, u = 1 - t;
      pts.push([u * u * L[0] + 2 * u * t * C[0] + t * t * M[0], u * u * L[1] + 2 * u * t * C[1] + t * t * M[1]]);
    }
    for (let k = 1; k <= 6; k++) {
      const t = k / 6;
      pts.push([M[0] + (R[0] - M[0]) * t, M[1] + (R[1] - M[1]) * t]);
    }
    return pts;
  }
  /* upper-surface grooves: start, intermediate point, end */
  const ends = [[587,62],[605,74],[625,86],[643,97],[663,109],[683,121],[705,134],[727,147],[748,159],[772,172],[793,187],[818,199],[840,207],[788,223],[755,232],[708,243],[658,257],[597,273],[527,297],[450,327],[385,360]];
  const mids = [[430,68],[430,81.5],[430,95],[430,108.5],[430,122],[430,135.5],[430,149],[430,162.5],[430,176],[430,189.5],[430,203],[430,216.5],[430,227],[430,248],[430,261],[430,276],[430,291],[430,303],[430,316],[430,332],[370,367]];
  ends.forEach(function (R, i) {
    const L = [60 + 12 * i, 160 + 12.15 * i];
    draw(arc(L, mids[i], R), true, 1.7);
  });
  /* lower-surface grooves */
  const lowStart = [[385,360],[327,395],[292,420],[270,439],[257,453],[268,466],[287,478],[297,493]];
  const lowMid = [[455,327],[550,292],[550,305],[550,318],[550,331],[550,345],[550,361],[550,380]];
  const lowEnd = [[525,297],[597,273],[658,257],[708,243],[755,232],[788,223],[808,226],[826,228]];
  lowStart.forEach(function (L, i) {
    draw(arc(L, lowMid[i], lowEnd[i]), false, 1.7);
  });
})();
</script>
</body>
</html>
